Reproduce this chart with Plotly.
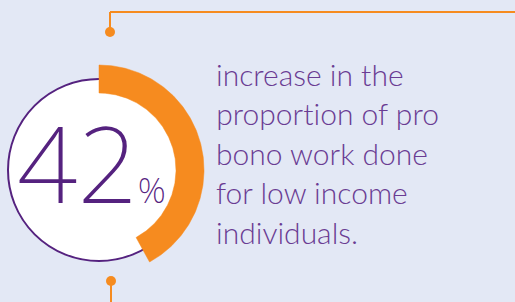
import numpy as np
import plotly.graph_objects as go

# data
stat_value = [42]           # percent
stat_suffix = ["%"]
caption_lines = ["increase in the", "proportion of pro", "bono work done",
                 "for low income", "individuals."]

W, H = 515, 302
BG = "#e3e8f5"
ORANGE = "#f68b1f"
PURPLE = "#55227f"
TEXT_PURPLE = "#6a3c93"

cx, cy = 99, 170
r_circle = 91
r_in, r_out = 77, 105

fig = go.Figure()

# orange progress arc computed from the value
pct = stat_value[0] / 100.0
theta = np.linspace(0, 2 * np.pi * pct, 200)
xo = cx + r_out * np.sin(theta)
yo = cy - r_out * np.cos(theta)
xi = cx + r_in * np.sin(theta[::-1])
yi = cy - r_in * np.cos(theta[::-1])
fig.add_trace(go.Scatter(
    x=np.concatenate([xo, xi, xo[:1]]),
    y=np.concatenate([yo, yi, yo[:1]]),
    mode="lines", fill="toself", fillcolor=ORANGE,
    line=dict(color=ORANGE, width=0.5), hoverinfo="skip", showlegend=False))

shapes = [
    # white circle with purple outline
    dict(type="circle", xref="x", yref="y", layer="below",
         x0=cx - r_circle, x1=cx + r_circle, y0=cy - r_circle, y1=cy + r_circle,
         fillcolor="white", line=dict(color=PURPLE, width=2)),
    # top connector
    dict(type="line", xref="x", yref="y", x0=110, x1=W + 5, y0=12, y1=12,
         line=dict(color=ORANGE, width=2)),
    dict(type="line", xref="x", yref="y", x0=110, x1=110, y0=12, y1=32,
         line=dict(color=ORANGE, width=2)),
    dict(type="circle", xref="x", yref="y", x0=105, x1=115, y0=27, y1=37,
         fillcolor=ORANGE, line=dict(color=ORANGE, width=0)),
    # bottom connector
    dict(type="line", xref="x", yref="y", x0=111, x1=111, y0=281, y1=H + 5,
         line=dict(color=ORANGE, width=2)),
    dict(type="circle", xref="x", yref="y", x0=106, x1=116, y0=276, y1=286,
         fillcolor=ORANGE, line=dict(color=ORANGE, width=0)),
]

big_text = f"{stat_value[0]}<span style='font-size:35px'>{stat_suffix[0]}</span>"
annotations = [
    dict(x=91, y=236, xref="x", yref="y", text=big_text,
         showarrow=False, xanchor="center", yanchor="bottom",
         font=dict(family="Noto Sans", size=106, color=PURPLE, weight=200)),
]
line_gap = 39.5
for i, t in enumerate(caption_lines):
    annotations.append(dict(
        x=214, y=73.5 + i * line_gap, xref="x", yref="y", text=t,
        showarrow=False, xanchor="left", yanchor="middle",
        font=dict(family="Lato", size=30, color=TEXT_PURPLE, weight=300)))

fig.update_layout(
    width=W, height=H, autosize=False,
    margin=dict(l=0, r=0, t=0, b=0),
    paper_bgcolor=BG, plot_bgcolor=BG,
    xaxis=dict(range=[0, W], visible=False, fixedrange=True),
    yaxis=dict(range=[H, 0], visible=False, fixedrange=True),
    shapes=shapes, annotations=annotations, showlegend=False,
)

post = (
    "document.body.style.margin='0';"
    "document.querySelectorAll('text').forEach(function(e){e.style.fontVariantLigatures='none';});"
    "var t=document.querySelectorAll('.annotation-text');"
    "if(t.length){t[0].style.fontStretch='85%';}"
)
fig.write_html("out.html", config={"displayModeBar": False}, post_script=post)
